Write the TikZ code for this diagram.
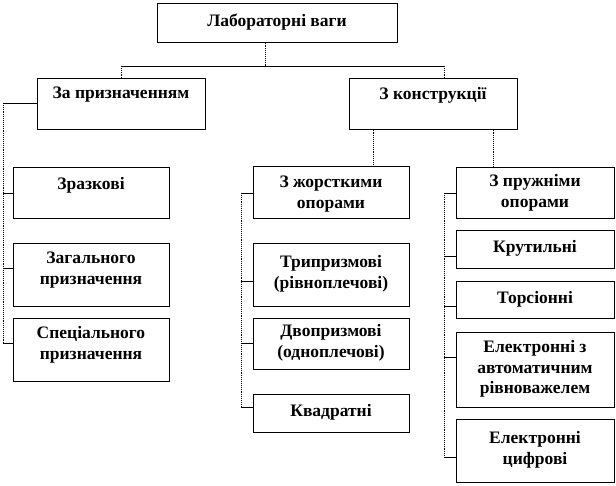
\documentclass[tikz,border=0pt]{standalone}
\usepackage{fontspec}
\setmainfont{Liberation Serif}
\begin{document}
\begin{tikzpicture}[x=1pt,y=-1pt,
  box/.style={draw=black, line width=0.7pt, anchor=north west, inner sep=0pt},
  lbl/.style={font=\fontsize{17.5}{20.5}\selectfont\bfseries, align=center, inner sep=0pt},
  hconn/.style={draw=black, line width=0.7pt},
  vconn/.style={draw=black, line width=0.9pt, densely dotted}]
\useasboundingbox (0,0) rectangle (616,486);
\fill[white] (0,0) rectangle (616,486);
% boxes
\newcommand{\bx}[5]{\node[box, minimum width=#3-#1, minimum height=#4-#2] (#5) at (#1,#2) {};}
\bx{157}{3}{397}{42}{top}
\bx{37}{78}{205}{129}{zp}
\bx{349}{78}{517}{129}{zk}
\bx{13}{167}{169}{218}{zr}
\bx{13}{243}{169}{306}{zg}
\bx{13}{318}{169}{381}{sp}
\bx{253}{166}{409}{218}{zo}
\bx{253}{243}{409}{306}{tr}
\bx{253}{318}{409}{369}{dv}
\bx{253}{394}{409}{432}{kv}
\bx{456}{167}{614}{218}{po}
\bx{456}{230}{614}{268}{kr}
\bx{456}{281}{614}{318}{to}
\bx{456}{332}{614}{407}{ea}
\bx{456}{419}{614}{482}{ec}
% labels
\node[lbl] at (277,22) {Лабораторні ваги};
\node[lbl] at (121,95) {За призначенням};
\node[lbl] at (433,95) {З конструкції};
\node[lbl] at (91,185) {Зразкові};
\node[lbl] at (91,270) {Загального\\призначення};
\node[lbl] at (91,345) {Спеціального\\призначення};
\node[lbl] at (331,194) {З жорсткими\\опорами};
\node[lbl] at (331,274) {Трипризмові\\(рівноплечові)};
\node[lbl] at (331,343) {Двопризмові\\(одноплечові)};
\node[lbl] at (331,412) {Квадратні};
\node[lbl] at (535,193) {З пружніми\\опорами};
\node[lbl] at (535,248) {Крутильні};
\node[lbl] at (535,299) {Торсіонні};
\node[lbl] at (535,369) {Електронні з\\автоматичним\\рівноважелем};
\node[lbl] at (535,450) {Електронні\\цифрові};
% top level connectors
\coordinate (j0) at (265,66);
\coordinate (j1) at (121,66);
\coordinate (j2) at (444,66);
\draw[vconn] (top.south -| j0) -- (j0);
\draw[hconn] (j1) -- (j2);
\draw[vconn] (j1) -- (zp.north -| j1);
\draw[vconn] (j2) -- (zk.north -| j2);
% left column
\coordinate (la) at (3,103);
\coordinate (lb) at (3,343);
\draw[vconn] (la) -- (lb);
\draw[hconn] (la) -- (zp.west |- la);
\draw[hconn] (3,193) -- (zr.west |- 3,193);
\draw[hconn] (3,268) -- (zg.west |- 3,268);
\draw[hconn] (lb) -- (sp.west |- lb);
% middle column
\coordinate (ma) at (373,129);
\draw[vconn] (zk.south -| ma) -- (zo.north -| ma);
\coordinate (mt) at (241,193);
\coordinate (mb) at (241,407);
\draw[vconn] (mt) -- (mb);
\draw[hconn] (mt) -- (zo.west |- mt);
\draw[hconn] (241,281) -- (tr.west |- 241,281);
\draw[hconn] (241,343) -- (dv.west |- 241,343);
\draw[hconn] (mb) -- (kv.west |- mb);
% right column
\coordinate (ra) at (493,129);
\draw[vconn] (zk.south -| ra) -- (po.north -| ra);
\coordinate (rt) at (444,193);
\coordinate (rb) at (444,457);
\draw[vconn] (rt) -- (rb);
\draw[hconn] (rt) -- (po.west |- rt);
\draw[hconn] (444,256) -- (kr.west |- 444,256);
\draw[hconn] (444,306) -- (to.west |- 444,306);
\draw[hconn] (444,357) -- (ea.west |- 444,357);
\draw[hconn] (rb) -- (ec.west |- rb);
\end{tikzpicture}
\end{document}
